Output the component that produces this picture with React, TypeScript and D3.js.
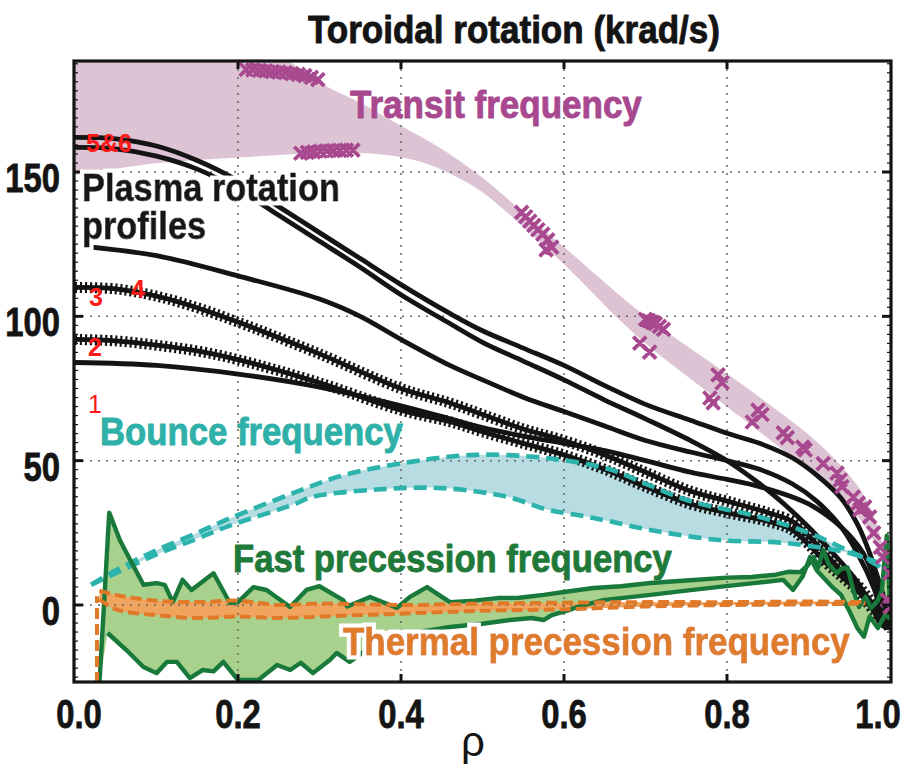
import React from "react";
import * as d3 from "d3";

type P = [number, number];

// ---------------- data ----------------
const xTicks = [0, 0.2, 0.4, 0.6, 0.8, 1.0];
const xTickLabels = ["0.0", "0.2", "0.4", "0.6", "0.8", "1.0"];
const yTicks = [0, 50, 100, 150];
const yTickLabels = ["0", "50", "100", "150"];

const transitUpper: P[] = [[0, 205], [0.2, 200], [0.25, 191], [0.3, 181], [0.35, 174], [0.4, 166], [0.45, 158], [0.5, 148], [0.55, 136], [0.6, 124], [0.7, 100], [0.78, 84], [0.84, 72], [0.92, 54], [0.97, 37], [0.99, 22], [1.0, 10]];
const transitLower: P[] = [[0, 149], [0.1, 153], [0.2, 155], [0.3, 156.5], [0.38, 156], [0.43, 153], [0.47, 148], [0.5, 143], [0.55, 131], [0.6, 118], [0.69, 93], [0.78, 73], [0.84, 60], [0.92, 42], [0.97, 27], [0.99, 15], [1.0, 5]];

const transitMarks: P[] = [
  [0.21, 185.5], [0.218, 185.4], [0.226, 185.2], [0.234, 185], [0.242, 184.8], [0.25, 184.6], [0.258, 184.4], [0.266, 184.1], [0.274, 183.8], [0.282, 183.4], [0.29, 182.8], [0.298, 182],
  [0.277, 156.5], [0.285, 156.8], [0.293, 157], [0.301, 157.2], [0.309, 157.3], [0.317, 157.4], [0.325, 157.5], [0.333, 157.6], [0.341, 157.6],
  [0.548, 136], [0.553, 134.5], [0.558, 133], [0.563, 131.5], [0.568, 130], [0.574, 128.5], [0.58, 126.5], [0.585, 124], [0.578, 123],
  [0.7, 99], [0.704, 98.5], [0.708, 98], [0.712, 97.5], [0.717, 96.5], [0.722, 95.5], [0.693, 90.7], [0.705, 87.6],
  [0.789, 79.7], [0.794, 77], [0.779, 71.7], [0.783, 70], [0.838, 67.5], [0.843, 66], [0.831, 63.4], [0.869, 59.6], [0.874, 58], [0.893, 54.7], [0.896, 53.7], [0.918, 49], [0.935, 45.7], [0.939, 43.3], [0.941, 41], [0.955, 37.4], [0.961, 35.3], [0.963, 33], [0.969, 34], [0.975, 30.5], [0.98, 25], [0.988, 20], [0.991, 16.6], [1.0, 11], [0.997, 1.7], [1.0, -0.7],
];

const profile5: P[] = [[0, 162], [0.05, 161.5], [0.1, 159], [0.15, 154], [0.2, 147], [0.25, 138], [0.3, 129], [0.35, 120], [0.4, 111], [0.46, 101], [0.5, 95], [0.55, 89], [0.6, 83], [0.65, 76], [0.7, 69.5], [0.755, 64], [0.8, 59.5], [0.84, 56], [0.88, 51], [0.91, 45], [0.94, 37], [0.96, 28], [0.975, 18], [0.99, 5], [1.0, -4]];
const profile6: P[] = [[0, 158.5], [0.05, 158], [0.1, 155.5], [0.15, 151], [0.2, 144], [0.25, 135], [0.3, 126], [0.35, 117], [0.4, 107.5], [0.46, 97.5], [0.5, 91], [0.55, 84.5], [0.6, 78], [0.65, 71], [0.7, 64.5], [0.755, 57], [0.8, 50], [0.84, 42], [0.87, 35], [0.9, 27], [0.93, 18], [0.96, 8], [0.98, -2], [0.99, -7], [1.0, -8]];
const profile4: P[] = [[0.02, 124], [0.1, 121], [0.2, 114], [0.3, 106], [0.35, 100], [0.4, 92], [0.46, 83], [0.5, 78], [0.55, 72], [0.6, 67], [0.65, 62], [0.7, 57], [0.755, 53], [0.8, 50], [0.84, 47], [0.88, 42], [0.91, 36], [0.94, 27], [0.96, 18], [0.98, 6], [0.99, -3], [1.0, -8]];
const profile3: P[] = [[0, 110], [0.05, 109.5], [0.1, 107], [0.15, 103], [0.2, 98], [0.3, 87], [0.4, 75], [0.46, 70], [0.5, 66], [0.55, 61], [0.6, 57], [0.65, 52], [0.7, 46], [0.755, 39.5], [0.8, 36], [0.85, 32], [0.88, 29], [0.9, 24], [0.92, 18], [0.94, 12], [0.96, 7], [0.98, 0], [1.0, -8]];
const profile2: P[] = [[0, 92], [0.05, 91.5], [0.1, 90], [0.15, 88], [0.2, 85], [0.3, 77], [0.4, 67.5], [0.46, 63.5], [0.5, 60], [0.55, 56], [0.6, 52], [0.65, 47], [0.7, 41], [0.755, 35], [0.8, 32], [0.85, 29], [0.88, 26], [0.9, 21], [0.92, 15], [0.94, 10], [0.96, 5], [0.98, -2], [1.0, -8]];
const profile1: P[] = [[0, 84], [0.1, 83], [0.2, 80], [0.3, 75.5], [0.4, 69], [0.46, 64.5], [0.5, 61.5], [0.55, 58.5], [0.6, 56], [0.65, 53.5], [0.7, 50], [0.755, 46], [0.8, 43.5], [0.84, 41], [0.9, 35], [0.94, 27], [0.967, 18], [0.985, 6], [1.0, -7]];

const bounceUpper: P[] = [[0.02, 7], [0.05, 12], [0.1, 19], [0.15, 25], [0.19, 30], [0.27, 39], [0.33, 45], [0.41, 49.5], [0.49, 52], [0.575, 51], [0.656, 47], [0.7, 42], [0.755, 36], [0.84, 30.5], [0.9, 25], [0.94, 20], [0.98, 14.5], [1.0, 11]];
const bounceLower: P[] = [[0.02, 7], [0.05, 11], [0.1, 17.5], [0.15, 23], [0.19, 27.5], [0.27, 35], [0.29, 37.4], [0.37, 40], [0.45, 40.5], [0.53, 37.5], [0.58, 33], [0.62, 31], [0.656, 29], [0.706, 26], [0.79, 22.5], [0.87, 21.5], [0.95, 18], [0.99, 14], [1.0, 12]];

const fastUpper: P[] = [[0.03, -27], [0.036, 2], [0.042, 32], [0.055, 22.5], [0.067, 16], [0.084, 7], [0.1, 7.6], [0.11, 7], [0.12, 1], [0.132, 8.7], [0.143, 5.2], [0.17, 11], [0.19, 0.7], [0.2, 1], [0.219, 6.2], [0.235, 5.2], [0.264, -0.7], [0.284, 5.2], [0.3, 6.5], [0.329, 1.7], [0.334, -0.5], [0.362, 2.8], [0.395, -1], [0.411, 2.8], [0.432, 6.2], [0.46, 1], [0.49, 1.5], [0.518, 2.4], [0.545, 2.5], [0.575, 3.5], [0.6, 4.5], [0.636, 5.9], [0.67, 6.5], [0.706, 7.6], [0.75, 8.5], [0.8, 9.5], [0.83, 9.7], [0.86, 10.5], [0.875, 11.5], [0.89, 11.4], [0.9, 14], [0.906, 16.6], [0.912, 13], [0.918, 19], [0.925, 14], [0.935, 11], [0.94, 12.5], [0.948, 13], [0.955, 5], [0.962, -0.7], [0.97, 2.8], [0.977, -1], [0.985, 1.5], [0.99, 5], [0.996, 24], [1.0, 0]];
const fastLower: P[] = [[0.04, -9.7], [0.063, -15.6], [0.084, -21.5], [0.1, -23.6], [0.113, -19.7], [0.125, -19.7], [0.141, -25.3], [0.157, -22.5], [0.17, -23], [0.182, -19.7], [0.2, -26], [0.225, -26], [0.248, -20.8], [0.264, -22.5], [0.277, -20], [0.292, -23.6], [0.313, -19], [0.321, -16.6], [0.337, -19.7], [0.36, -15], [0.4, -11], [0.43, -9], [0.46, -7.6], [0.5, -6.5], [0.534, -5.2], [0.56, -4.5], [0.575, -5.2], [0.585, -3.5], [0.607, -1.7], [0.616, -0.7], [0.648, 1.7], [0.706, 3.5], [0.75, 5], [0.788, 6.2], [0.83, 7.5], [0.869, 8.7], [0.881, 5.2], [0.893, 10], [0.902, 16.6], [0.91, 12], [0.92, 9], [0.93, 6], [0.94, 3.5], [0.95, -2], [0.96, -8], [0.968, -11], [0.975, -4], [0.985, -8], [0.995, -3], [1.0, -5]];

const thermalUpper: P[] = [[0.03, 5], [0.05, 3.5], [0.1, 1.5], [0.15, 1], [0.2, 1.5], [0.25, 0], [0.3, 0.5], [0.4, 0], [0.5, 0.5], [0.6, 0.8], [0.7, 1], [0.8, 1], [0.9, 1.2], [0.97, 1]];
const thermalLower: P[] = [[0.03, 2], [0.05, -1.5], [0.1, -3.5], [0.15, -4.5], [0.2, -4], [0.25, -4.5], [0.3, -4], [0.35, -3.5], [0.4, -3], [0.5, -2], [0.6, -1.5], [0.7, -0.5], [0.8, 0], [0.9, 0.2], [0.97, 0.5]];
const thermalEdge: P[] = [[0.027, -27], [0.027, 3]];

// ---------------- chart ----------------
const W = 904, H = 764;
const x = d3.scaleLinear().domain([0, 1]).range([75, 890]);
const y = d3.scaleLinear().domain([0, 150]).range([605, 172]);
const L = 74, R = 891, T = 61, B = 682;

const smooth = d3.line<P>().x(d => x(d[0])).y(d => y(d[1])).curve(d3.curveCatmullRom.alpha(0.5));
const straight = d3.line<P>().x(d => x(d[0])).y(d => y(d[1]));
const band = (up: P[], lo: P[], c: any) => {
  const a = d3.line<P>().x(d => x(d[0])).y(d => y(d[1])).curve(c);
  const p1 = a(up) as string;
  const p2 = (a([...lo].reverse()) as string).replace(/^M/, "L");
  return p1 + p2 + "Z";
};

const MAG = "#a8488f", TEAL = "#2bb3ac", GREEN = "#18793a", ORANGE = "#e07a28", BLK = "#141414";
const FONT = "'Liberation Sans', Arial, Helvetica, sans-serif";
const FS = 39;

let ctx: CanvasRenderingContext2D | null = null;
function fitScale(txt: string, size: number, target: number) {
  if (!ctx) ctx = document.createElement("canvas").getContext("2d");
  if (!ctx) return 0.88;
  ctx.font = `bold ${size}px 'Liberation Sans', Arial, sans-serif`;
  const w = ctx.measureText(txt).width;
  return w > 0 ? target / w : 0.88;
}

export default function App() {
  const yMinor: number[] = [];
  for (let v = -25; v <= 188; v += 50 / 16) yMinor.push(v);
  const hatched = [profile3, profile2];
  const solid = [profile5, profile6, profile4, profile1];
  const xsym = (p: P) => {
    const cx = x(p[0]), cy = y(p[1]), s = 6.5;
    return `M${cx - s},${cy - s}L${cx + s},${cy + s}M${cx - s},${cy + s}L${cx + s},${cy - s}`;
  };
  const bigText = (txt: string, tx: number, ty: number, len: number, fill: string, halo = false) => {
    const s = fitScale(txt, FS, len);
    return (
      <text transform={`translate(${tx},${ty}) scale(${s},1)`} fontSize={FS} fontWeight="bold" fontFamily={FONT}
        fill={fill} stroke={fill} strokeWidth={0.9} strokeLinejoin="round"
        filter={halo ? "url(#halo)" : undefined}>{txt}</text>
    );
  };
  const sPlasma = fitScale("Plasma rotation", FS, 258);
  return (
    <svg width={W} height={H} style={{ position: "absolute", left: 0, top: 0, background: "#fff" }}>
      <defs>
        <clipPath id="plot"><rect x={L} y={T} width={R - L} height={B - T} /></clipPath>
        <filter id="halo" x="-10%" y="-30%" width="120%" height="160%">
          <feMorphology in="SourceAlpha" operator="dilate" radius="4" result="d" />
          <feFlood floodColor="#ffffff" result="w" />
          <feComposite in="w" in2="d" operator="in" result="h" />
          <feMerge>
            <feMergeNode in="h" />
            <feMergeNode in="SourceGraphic" />
          </feMerge>
        </filter>
      </defs>
      <rect width={W} height={H} fill="#fff" />
      <g clipPath="url(#plot)">
        <path d={band(transitUpper, transitLower, d3.curveCatmullRom.alpha(0.5))} fill="#dcc4d5" />
        <path d={band(bounceUpper, bounceLower, d3.curveCatmullRom.alpha(0.5))} fill="#b7dde3" />
        <path d={band(fastUpper, fastLower, d3.curveLinear)} fill="#a9d18e" />
        <path d={band(thermalUpper, thermalLower, d3.curveCatmullRom.alpha(0.5))} fill="#f1a45e" />
        {/* grid */}
        {xTicks.slice(1, 5).map(v => (
          <line key={"gx" + v} x1={x(v)} x2={x(v)} y1={T} y2={B} stroke="#666" strokeWidth={1.5} strokeDasharray="2,6" />
        ))}
        {yTicks.map(v => (
          <line key={"gy" + v} x1={L} x2={R} y1={y(v)} y2={y(v)} stroke="#666" strokeWidth={1.5} strokeDasharray="2,6" />
        ))}
        {/* plasma rotation profiles */}
        {solid.map((p, i) => <path key={"s" + i} d={smooth(p) as string} fill="none" stroke={BLK} strokeWidth={4.8} />)}
        {hatched.map((p, i) => (
          <g key={"h" + i}>
            <path d={smooth(p) as string} fill="none" stroke={BLK} strokeWidth={4.8} />
            <path d={smooth(p) as string} fill="none" stroke={BLK} strokeWidth={11} strokeDasharray="2.2,2.8" />
          </g>
        ))}
        {/* bounce */}
        <path d={smooth(bounceUpper) as string} fill="none" stroke={TEAL} strokeWidth={4.6} strokeDasharray="13,7" />
        <path d={smooth(bounceLower) as string} fill="none" stroke={TEAL} strokeWidth={4.6} strokeDasharray="13,7" />
        {/* fast precession */}
        <path d={straight(fastUpper) as string} fill="none" stroke={GREEN} strokeWidth={4.4} strokeLinejoin="round" />
        <path d={straight(fastLower) as string} fill="none" stroke={GREEN} strokeWidth={4.4} strokeLinejoin="round" />
        {/* thermal precession */}
        <path d={smooth(thermalUpper) as string} fill="none" stroke={ORANGE} strokeWidth={4} strokeDasharray="11,5" />
        <path d={smooth(thermalLower) as string} fill="none" stroke={ORANGE} strokeWidth={4} strokeDasharray="11,5" />
        <path d={straight(thermalEdge) as string} fill="none" stroke={ORANGE} strokeWidth={4} strokeDasharray="11,5" />
        {/* transit markers */}
        <path d={transitMarks.map(xsym).join("")} fill="none" stroke={MAG} strokeWidth={3.8} />
      </g>
      {/* frame & ticks */}
      <rect x={L} y={T} width={R - L} height={B - T} fill="none" stroke={BLK} strokeWidth={3.2} />
      {xTicks.slice(1, 5).map(v => (
        <g key={"tx" + v}>
          <line x1={x(v)} x2={x(v)} y1={B} y2={B - 8} stroke={BLK} strokeWidth={3} />
          <line x1={x(v)} x2={x(v)} y1={T} y2={T + 8} stroke={BLK} strokeWidth={3} />
        </g>
      ))}
      {yTicks.map(v => (
        <g key={"ty" + v}>
          <line x1={L} x2={L + 9} y1={y(v)} y2={y(v)} stroke={BLK} strokeWidth={3} />
          <line x1={R} x2={R - 9} y1={y(v)} y2={y(v)} stroke={BLK} strokeWidth={3} />
        </g>
      ))}
      {yMinor.filter(v => y(v) > T + 2 && y(v) < B - 2).map((v, i) => (
        <g key={"my" + i}>
          <line x1={L} x2={L + 4} y1={y(v)} y2={y(v)} stroke={BLK} strokeWidth={1.2} />
          <line x1={R} x2={R - 4} y1={y(v)} y2={y(v)} stroke={BLK} strokeWidth={1.2} />
        </g>
      ))}
      {/* tick labels */}
      {yTicks.map((v, i) => (
        <text key={"yl" + v} transform={`translate(60,${y(v) + 20}) scale(0.82,1)`} textAnchor="end"
          fontSize={40} fontWeight="bold" fontFamily={FONT} fill={BLK} stroke={BLK} strokeWidth={0.8}>{yTickLabels[i]}</text>
      ))}
      {xTicks.map((v, i) => (
        <text key={"xl" + v} transform={`translate(${x(v) + (i === 0 ? 4 : i === 5 ? -12 : 0)},728) scale(0.82,1)`} textAnchor="middle"
          fontSize={40} fontWeight="bold" fontFamily={FONT} fill={BLK} stroke={BLK} strokeWidth={0.8}>{xTickLabels[i]}</text>
      ))}
      <text x={473} y={756} textAnchor="middle" fontSize={42} fontFamily={FONT} fill={BLK}>ρ</text>
      {/* title */}
      {bigText("Toroidal rotation (krad/s)", 308, 43, 412, BLK)}
      {/* series labels */}
      {bigText("Transit frequency", 350, 118, 292, MAG)}
      <text transform={`translate(82,201) scale(${sPlasma},1)`} fontSize={FS} fontWeight="bold" fontFamily={FONT}
        fill={BLK} stroke={BLK} strokeWidth={0.9} strokeLinejoin="round" filter="url(#halo)">
        <tspan x={0} y={0}>Plasma rotation</tspan>
        <tspan x={0} y={38}>profiles</tspan>
      </text>
      {bigText("Bounce frequency", 100, 445, 303, "#2fb0a8")}
      {bigText("Fast precession frequency", 233, 572, 439, "#1f7a3a")}
      {bigText("Thermal precession frequency", 343, 655, 507, "#df7b2c", true)}
      {/* red profile numbers */}
      <g fontFamily={FONT} fontWeight="bold" fill="#ff1a1a" fontSize={25}>
        <text x={86} y={152}>5&amp;6</text>
        <text x={89} y={306}>3</text>
        <text x={131} y={298}>4</text>
        <text x={88} y={356}>2</text>
        <text x={88} y={413} fontWeight="normal">1</text>
      </g>
    </svg>
  );
}
